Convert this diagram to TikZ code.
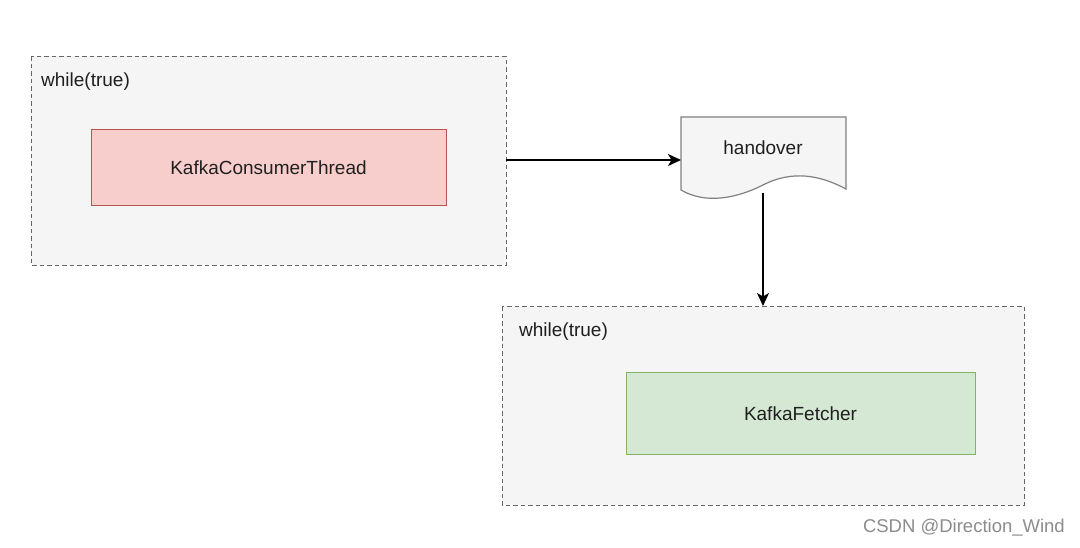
\documentclass[tikz,border=0pt]{standalone}
\usepackage{fontspec}
\setmainfont{Liberation Sans}
\usetikzlibrary{arrows.meta}
\definecolor{loopfill}{HTML}{F5F5F5}
\definecolor{loopdraw}{HTML}{666666}
\definecolor{redfill}{HTML}{F8CECC}
\definecolor{reddraw}{HTML}{B85450}
\definecolor{greenfill}{HTML}{D5E8D4}
\definecolor{greendraw}{HTML}{82B366}
\definecolor{docdraw}{HTML}{808080}
\tikzset{
  loopbox/.style={draw=loopdraw, fill=loopfill, dash pattern=on 4.5pt off 3pt, line width=1pt},
  redbox/.style={draw=reddraw, fill=redfill, line width=1pt},
  greenbox/.style={draw=greendraw, fill=greenfill, line width=1pt},
  lbl/.style={font=\fontsize{19}{22}\selectfont, text=black!88},
  conn/.style={-{Stealth[length=13pt,width=12pt,inset=3.5pt]}, line width=1.4pt},
}
\begin{document}
\begin{tikzpicture}[x=1pt,y=1pt]
\useasboundingbox[fill=white] (0,0) rectangle (1080,-547);
% loop 1
\draw[loopbox] (31,-56) rectangle (506,-265);
\node[lbl, anchor=west, inner sep=0pt] (w1) at (41,-82) {while(true)};
\coordinate (l1e) at (506,-160);
\draw[redbox] (91,-129) rectangle (446,-205);
\node[lbl] (kct) at (268.5,-168) {KafkaConsumerThread};
% handover document
\draw[draw=docdraw, fill=loopfill, line width=1.2pt] (681,-117) -- (846,-117) -- (846,-189)
  .. controls (820,-175) and (792,-170) .. (763,-185)
  .. controls (735,-199) and (705,-204) .. (681,-190) -- cycle;
\node[lbl] (ho) at (763,-148) {handover};
\coordinate (hol) at (681,-160);
\coordinate (hob) at (763,-193);
% loop 2
\draw[loopbox] (502,-306) rectangle (1024,-505);
\node[lbl, anchor=west, inner sep=0pt] (w2) at (519,-332) {while(true)};
\coordinate (l2t) at (763,-306);
\draw[greenbox] (626,-372) rectangle (975,-454);
\node[lbl] (kf) at (800.5,-414) {KafkaFetcher};
% connectors
\draw[conn] (l1e) -- (hol);
\draw[conn] (hob) -- (l2t);
% watermark
\node[font=\fontsize{18.5}{22}\selectfont, text=black!45, anchor=east, inner sep=0pt] (wm) at (1065,-528) {CSDN @Direction\_Wind};
\end{tikzpicture}
\end{document}
